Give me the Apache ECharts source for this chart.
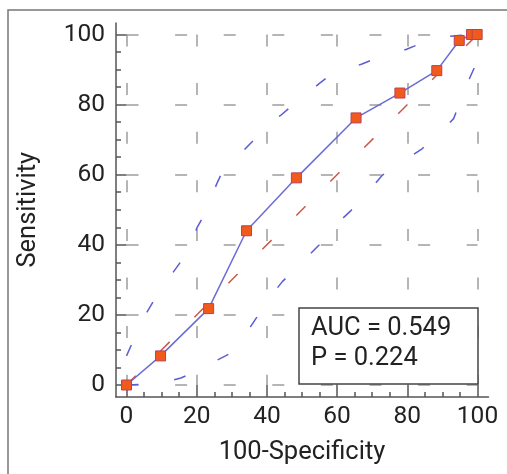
<!DOCTYPE html>
<html>
<head>
<meta charset="utf-8">
<script src="https://cdn.jsdelivr.net/npm/echarts@6/dist/echarts.min.js"></script>
<style>
html,body{margin:0;padding:0;background:#fff;}
#chart{width:507px;height:474px;}
</style>
</head>
<body>
<div id="chart"></div>
<script>
// ---- data ----
const rocX = [0, 9.7, 23.4, 34.2, 48.4, 65.4, 77.9, 88.4, 94.8, 98.3, 99.9];
const rocY = [0, 8.3, 21.8, 44.0, 59.1, 76.2, 83.3, 89.7, 98.3, 100, 100];

const upperX = [0, 4.5, 9.2, 15.4, 17.5, 20.1, 21.8, 25.8, 27.3, 28.7, 31, 38.5, 41, 43.9, 46.7, 54.8, 57.6, 67.1, 70.4, 79.8, 82.8, 87.5, 91.4, 96, 100];
const upperY = [8.3, 18.5, 26.5, 35.1, 38, 44.9, 47.9, 57.6, 60.8, 62.2, 64.5, 72.2, 75, 76.9, 79.3, 85.9, 88.1, 91.6, 92.9, 95.8, 97, 98.6, 99.4, 99.8, 100];

const lowerX = [0, 6, 12.5, 15.5, 18.7, 28.2, 31.3, 33.6, 35.3, 41, 44.4, 47.5, 54.5, 57.2, 61, 63.8, 70.5, 72.8, 81.4, 84.2, 90.4, 93.2, 96.6, 100, 100];
const lowerY = [0, 0.3, 1.2, 2, 3.4, 8.3, 10, 14.2, 16.6, 25.2, 29.5, 32.5, 39.6, 42, 47, 49.6, 57, 59.8, 65.5, 67.4, 73.1, 76, 85, 92.5, 100];

const diagX = [0, 100];
const diagY = [0, 100];

const xTitle = '100-Specificity';
const yTitle = 'Sensitivity';
const aucValue = '0.549';
const pValue = '0.224';

// ---- chart ----
const zip = (xs, ys) => xs.map((x, i) => [x, ys[i]]);
const FONT = 'Roboto';
const axisColor = '#555';
const gridLine = {color: '#9d9d9d', width: 1.5, type: [12, 36.6], dashOffset: 0};

const chart = echarts.init(document.getElementById('chart'), null, {renderer: 'canvas'});

const innerAxisCommon = {
  type: 'value', min: 0, max: 100, interval: 20,
  axisLine: {show: false, onZero: false},
  axisTick: {show: true, inside: true, lineStyle: {color: axisColor, width: 1.5}},
  minorTick: {show: true, splitNumber: 4, length: 5, lineStyle: {color: axisColor, width: 1.5}},
  splitLine: {show: true, lineStyle: gridLine},
  nameLocation: 'middle',
  nameTextStyle: {fontSize: 25.5, color: '#222', fontFamily: FONT}
};

const outerAxisCommon = {
  gridIndex: 1, type: 'value', min: 0, max: 1,
  axisLine: {show: true, onZero: false, lineStyle: {color: axisColor, width: 1.5}},
  axisTick: {show: false}, axisLabel: {show: false}, splitLine: {show: false}
};

const option = {
  animation: false,
  backgroundColor: '#fff',
  textStyle: {fontFamily: FONT},
  grid: [
    {left: 126.5, right: 29.5, top: 34.5, bottom: 89},
    {left: 116, right: 18.5, top: 23, bottom: 77}
  ],
  xAxis: [
    Object.assign({}, innerAxisCommon, {
      gridIndex: 0, offset: 12,
      axisTick: Object.assign({}, innerAxisCommon.axisTick, {length: 12}),
      axisLabel: {fontSize: 24.5, color: '#222', margin: 7.5, fontFamily: FONT},
      name: xTitle, nameGap: 43
    }),
    outerAxisCommon
  ],
  yAxis: [
    Object.assign({}, innerAxisCommon, {
      gridIndex: 0, offset: 10.5,
      axisTick: Object.assign({}, innerAxisCommon.axisTick, {length: 10.5}),
      axisLabel: {fontSize: 24.5, color: '#222', margin: 11, fontFamily: FONT, padding: [0, 0, 6, 0]},
      name: yTitle, nameGap: 74.5, nameRotate: 90
    }),
    outerAxisCommon
  ],
  series: [
    {
      type: 'line', xAxisIndex: 0, yAxisIndex: 0, data: zip(diagX, diagY),
      symbol: 'none', clip: false, silent: true, z: 2,
      lineStyle: {color: '#c65a4c', width: 1.5, type: [13, 35]}
    },
    {
      type: 'line', xAxisIndex: 0, yAxisIndex: 0, data: zip(upperX, upperY),
      symbol: 'none', clip: false, silent: true, z: 3,
      lineStyle: {color: '#5c5cd4', width: 1.5, type: [12, 36]}
    },
    {
      type: 'line', xAxisIndex: 0, yAxisIndex: 0, data: zip(lowerX, lowerY),
      symbol: 'none', clip: false, silent: true, z: 3,
      lineStyle: {color: '#5c5cd4', width: 1.5, type: [12, 36]}
    },
    {
      type: 'line', xAxisIndex: 0, yAxisIndex: 0, data: zip(rocX, rocY),
      symbol: 'rect', symbolSize: 10, clip: false, silent: true, z: 5,
      lineStyle: {color: '#6b6bd6', width: 1.5},
      itemStyle: {color: '#f25a1c', borderColor: '#b8405a', borderWidth: 1}
    }
  ],
  graphic: [
    {
      type: 'rect', z: -10, silent: true,
      shape: {x: 8, y: 10, width: 700, height: 700},
      style: {fill: 'none', stroke: '#777', lineWidth: 1.5}
    },
    {
      type: 'rect', z: 50, silent: true,
      shape: {x: 299, y: 308, width: 179, height: 76},
      style: {fill: '#fff', stroke: '#444', lineWidth: 1.5}
    },
    {
      type: 'text', z: 51, silent: true, x: 311, y: 314,
      style: {
        text: 'AUC = ' + aucValue + '\nP = ' + pValue,
        font: '25.5px Roboto', fill: '#222', lineHeight: 30,
        verticalAlign: 'top', align: 'left'
      }
    }
  ]
};

chart.setOption(option);
</script>
</body>
</html>
